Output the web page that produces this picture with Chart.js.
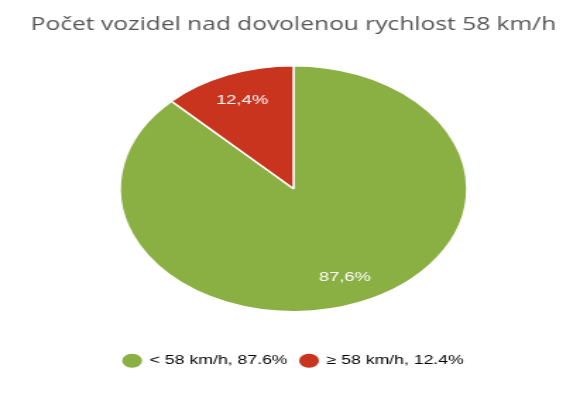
<!DOCTYPE html>
<html>
<head>
<meta charset="utf-8">
<script src="https://cdn.jsdelivr.net/npm/chart.js@4"></script>
<style>
  html, body { margin: 0; padding: 0; background: #fff; overflow: hidden; }
  /* the reference is a horizontally stretched picture, so the chart is drawn narrow and stretched */
  #wrap { width: 411px; height: 400px; transform: scaleX(1.4112); transform-origin: 0 0; }
</style>
</head>
<body>
<div id="wrap"><canvas id="pie1"></canvas></div>
<script>
const categories = ['< 58 km/h', '≥ 58 km/h'];
const shares = [87.6, 12.4];
const colors = ['#8aaf43', '#c8341e'];
const titleText = 'Počet vozidel nad dovolenou rychlost 58 km/h';

// white percentage labels inside the slices (decimal comma)
const sliceLabels = {
  id: 'sliceLabels',
  afterDatasetsDraw(chart) {
    const ctx = chart.ctx;
    const meta = chart.getDatasetMeta(0);
    ctx.save();
    ctx.fillStyle = '#ffffff';
    ctx.font = '13px "Liberation Sans", Arial, sans-serif';
    ctx.textAlign = 'center';
    ctx.textBaseline = 'middle';
    meta.data.forEach((arc, i) => {
      const p = arc.getProps(['x', 'y', 'startAngle', 'endAngle', 'outerRadius'], true);
      const mid = (p.startAngle + p.endAngle) / 2;
      const r = p.outerRadius * 0.78;
      const txt = shares[i].toFixed(1).replace('.', ',') + '%';
      ctx.fillText(txt, p.x + Math.cos(mid) * r, p.y + Math.sin(mid) * r);
    });
    ctx.restore();
  }
};

new Chart(document.getElementById('pie1'), {
  type: 'pie',
  data: {
    labels: categories,
    datasets: [{
      data: shares,
      backgroundColor: colors,
      borderColor: '#ffffff',
      borderWidth: 1.5,
      radius: 123
    }]
  },
  options: {
    responsive: true,
    maintainAspectRatio: false,
    animation: false,
    layout: {
      padding: { top: 0, bottom: 23, left: 5, right: 0 }
    },
    plugins: {
      title: {
        display: true,
        text: titleText,
        color: '#555555',
        font: { family: '"Open Sans", sans-serif', size: 17.4, weight: 'normal' },
        padding: { top: 15, bottom: -4 }
      },
      legend: {
        position: 'bottom',
        labels: {
          usePointStyle: true,
          pointStyle: 'circle',
          boxHeight: 10,
          padding: 9,
          color: '#333333',
          font: { family: '"Liberation Sans", Arial, sans-serif', size: 12.5 },
          generateLabels(chart) {
            return categories.map((c, i) => ({
              text: c + ', ' + shares[i].toFixed(1) + '%',
              fillStyle: colors[i],
              strokeStyle: colors[i],
              lineWidth: 0,
              pointStyle: 'circle',
              index: i,
              hidden: false
            }));
          }
        }
      },
      tooltip: { enabled: false }
    }
  },
  plugins: [sliceLabels]
});
</script>
</body>
</html>
